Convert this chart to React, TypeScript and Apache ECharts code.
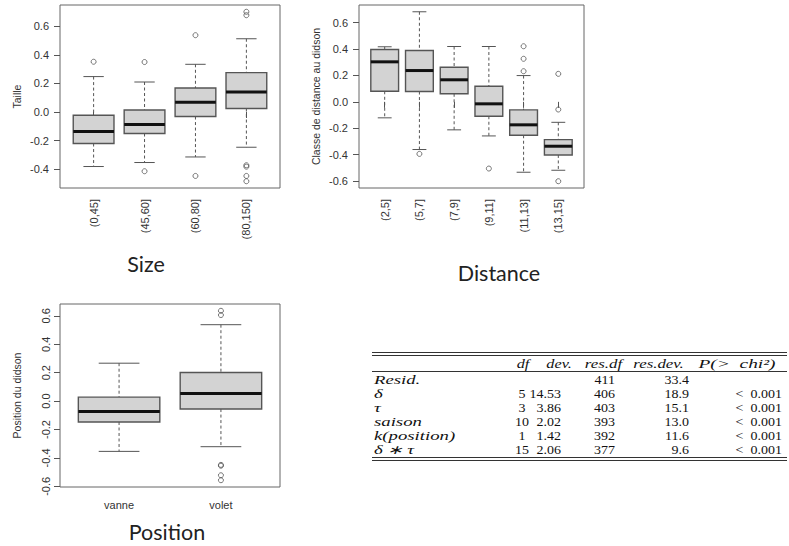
import React, { useEffect, useRef } from 'react';
import * as echarts from 'echarts';

// ---------- Size panel ----------
const sizeCategories = ['(0,45]', '(45,60]', '(60,80]', '(80,150]'];
// [lower whisker, Q1, median, Q3, upper whisker]
const sizeBoxes = [
  [-0.382, -0.221, -0.137, -0.023, 0.248],
  [-0.354, -0.151, -0.088, 0.014, 0.21],
  [-0.315, -0.032, 0.068, 0.168, 0.334],
  [-0.247, 0.024, 0.14, 0.276, 0.513],
];
const sizeOutliers = [[0.352], [0.35, -0.415], [0.538, -0.448], [0.702, 0.678, -0.373, -0.383, -0.448, -0.485]];
const sizeTicks = [-0.4, -0.2, 0.0, 0.2, 0.4, 0.6];

// ---------- Distance panel ----------
const distCategories = ['(2,5]', '(5,7]', '(7,9]', '(9,11]', '(11,13]', '(13,15]'];
const distBoxes = [
  [-0.121, 0.08, 0.303, 0.396, 0.417],
  [-0.361, 0.078, 0.237, 0.389, 0.682],
  [-0.212, 0.061, 0.167, 0.262, 0.419],
  [-0.258, -0.109, -0.015, 0.118, 0.419],
  [-0.533, -0.253, -0.174, -0.061, 0.199],
  [-0.518, -0.402, -0.336, -0.286, -0.155],
];
const distOutliers = [[], [-0.394], [], [-0.505], [0.421, 0.326, 0.232], [0.212, -0.058, -0.601]];
const distTicks = [-0.6, -0.4, -0.2, 0.0, 0.2, 0.4, 0.6];

// ---------- Position panel ----------
const posCategories = ['vanne', 'volet'];
const posBoxes = [
  [-0.354, -0.147, -0.073, 0.028, 0.267],
  [-0.321, -0.056, 0.053, 0.201, 0.538],
];
const posOutliers = [[], [0.636, 0.606, -0.449, -0.455, -0.522, -0.557]];
const posTicks = [-0.6, -0.4, -0.2, 0.0, 0.2, 0.4, 0.6];

// ---------- Deviance table ----------
const tableHeader = ['df', 'dev.', 'res.df', 'res.dev.', 'P(>\u2002chi²)'];
const tableRowLabels = ['Resid.', 'δ', 'τ', 'saison', 'k(position)', 'δ ∗ τ'];
const tableDf = ['', '5', '3', '10', '1', '15'];
const tableDev = ['', '14.53', '3.86', '2.02', '1.42', '2.06'];
const tableResDf = ['411', '406', '403', '393', '392', '377'];
const tableResDev = ['33.4', '18.9', '15.1', '13.0', '11.6', '9.6'];
const tableP = ['', '<\u20020.001', '<\u20020.001', '<\u20020.001', '<\u20020.001', '<\u20020.001'];

const panelTitles = ['Size', 'Distance', 'Position'];
const yNames = ['Taille', 'Classe de distance au didson', 'Position du didson'];

const SANS = 'Liberation Sans, Arial, sans-serif';
const SERIF = 'Liberation Serif, Times New Roman, serif';

function yRange(boxes: number[][], outliers: number[][]) {
  const vals: number[] = [];
  boxes.forEach((b) => vals.push(...b));
  outliers.forEach((o) => vals.push(...o));
  const lo = Math.min(...vals);
  const hi = Math.max(...vals);
  const r = hi - lo;
  return [lo - 0.04 * r, hi + 0.04 * r];
}

function renderBox(params: any, api: any) {
  const x = api.value(0);
  const lo = api.value(1);
  const q1 = api.value(2);
  const med = api.value(3);
  const q3 = api.value(4);
  const hi = api.value(5);
  const w = api.size([0.8, 0])[0];
  const cx = api.coord([x, med])[0];
  const yLo = api.coord([x, lo])[1];
  const yQ1 = api.coord([x, q1])[1];
  const yMed = api.coord([x, med])[1];
  const yQ3 = api.coord([x, q3])[1];
  const yHi = api.coord([x, hi])[1];
  const dash = { stroke: '#555', lineWidth: 1, lineDash: [3, 2.5] };
  const solid = { stroke: '#555', lineWidth: 1 };
  return {
    type: 'group',
    children: [
      { type: 'line', shape: { x1: cx, y1: yHi, x2: cx, y2: yQ3 }, style: dash },
      { type: 'line', shape: { x1: cx, y1: yQ1, x2: cx, y2: yLo }, style: dash },
      { type: 'line', shape: { x1: cx - w / 4, y1: yHi, x2: cx + w / 4, y2: yHi }, style: solid },
      { type: 'line', shape: { x1: cx - w / 4, y1: yLo, x2: cx + w / 4, y2: yLo }, style: solid },
      {
        type: 'rect',
        shape: { x: cx - w / 2, y: yQ3, width: w, height: yQ1 - yQ3 },
        style: { fill: '#d3d3d3', stroke: '#555', lineWidth: 1.4 },
      },
      { type: 'line', shape: { x1: cx - w / 2, y1: yMed, x2: cx + w / 2, y2: yMed }, style: { stroke: '#111', lineWidth: 3 } },
    ],
  };
}

export default function App() {
  const ref = useRef<HTMLDivElement>(null);
  useEffect(() => {
    if (!ref.current) return;
    const chart = echarts.init(ref.current, undefined, { renderer: 'svg' });

    const panels = [
      { cats: sizeCategories, boxes: sizeBoxes, outs: sizeOutliers, ticks: sizeTicks, grid: { left: 60, top: 5, width: 220, height: 183 }, xRot: 90, yRot: 0 },
      { cats: distCategories, boxes: distBoxes, outs: distOutliers, ticks: distTicks, grid: { left: 359, top: 5, width: 225, height: 183 }, xRot: 90, yRot: 0 },
      { cats: posCategories, boxes: posBoxes, outs: posOutliers, ticks: posTicks, grid: { left: 60, top: 304, width: 220, height: 183 }, xRot: 0, yRot: 90 },
    ];

    const grids: any[] = [];
    const xAxes: any[] = [];
    const yAxes: any[] = [];
    const series: any[] = [];

    panels.forEach((p, i) => {
      const n = p.cats.length;
      const [ymin, ymax] = yRange(p.boxes, p.outs);
      const xTicks = p.cats.map((_, k) => k + 1);
      grids.push({ ...p.grid, show: true, borderColor: '#666', borderWidth: 1, backgroundColor: 'transparent' });
      xAxes.push({
        gridIndex: i,
        type: 'value',
        min: 0.5 - 0.04 * n,
        max: n + 0.5 + 0.04 * n,
        axisLine: { show: false },
        splitLine: { show: false },
        axisTick: { show: true, customValues: xTicks, length: 6, lineStyle: { color: '#555' } },
        axisLabel: {
          customValues: xTicks,
          formatter: (v: number) => p.cats[Math.round(v) - 1] ?? '',
          rotate: p.xRot,
          margin: p.xRot ? 11 : 12,
          fontSize: 11,
          color: '#333',
          fontFamily: SANS,
        },
      });
      yAxes.push({
        gridIndex: i,
        type: 'value',
        min: ymin,
        max: ymax,
        axisLine: { show: false },
        splitLine: { show: false },
        axisTick: { show: true, customValues: p.ticks, length: 6, lineStyle: { color: '#555' } },
        axisLabel: {
          customValues: p.ticks,
          formatter: (v: number) => v.toFixed(1),
          rotate: p.yRot,
          margin: p.yRot ? 9 : 11,
          fontSize: 11,
          color: '#333',
          fontFamily: SANS,
        },
        name: yNames[i],
        nameLocation: 'middle',
        nameRotate: 90,
        nameGap: 38,
        nameTextStyle: { fontSize: 10.5, color: '#333', fontFamily: SANS },
      });
      series.push({
        type: 'custom',
        xAxisIndex: i,
        yAxisIndex: i,
        renderItem: renderBox,
        encode: { x: 0, y: [1, 2, 3, 4, 5] },
        data: p.boxes.map((b, k) => [k + 1, ...b]),
        silent: true,
        z: 2,
      });
      const outData: number[][] = [];
      p.outs.forEach((o, k) => o.forEach((v) => outData.push([k + 1, v])));
      series.push({
        type: 'scatter',
        xAxisIndex: i,
        yAxisIndex: i,
        symbol: 'circle',
        symbolSize: 5,
        itemStyle: { color: 'rgba(0,0,0,0)', borderColor: '#555', borderWidth: 1 },
        data: outData,
        silent: true,
        z: 3,
      });
    });

    // ---- table graphics ----
    const tbl: any[] = [];
    const L = 372;
    const R = 787;
    const hline = (y: number, lw = 1.2) => ({
      type: 'line',
      shape: { x1: L, y1: y, x2: R, y2: y },
      style: { stroke: '#333', lineWidth: lw },
    });
    tbl.push(hline(352.5), hline(355.5), hline(371.5, 1), hline(457.5), hline(460.5));
    const txt = (s: string, x: number, y: number, align: string, italic: boolean, sx: number) => ({
      type: 'text',
      x,
      y,
      scaleX: sx,
      style: {
        text: s,
        fontSize: 12.5,
        fontFamily: SERIF,
        fontStyle: italic ? 'italic' : 'normal',
        fill: '#111',
        align,
        verticalAlign: 'middle',
      },
    });
    const headerX = [523, 559, 603.5, 658.5, 737];
    const headerScale = [1.3, 1.3, 1.35, 1.35, 1.55];
    tableHeader.forEach((h, k) => tbl.push(txt(h, headerX[k], 363.5, 'center', true, headerScale[k])));
    const rowY0 = 380;
    const rowH = 13.9;
    const numScale = 1.12;
    tableRowLabels.forEach((lab, r) => {
      const y = rowY0 + r * rowH;
      tbl.push(txt(lab, 374, y, 'left', true, 1.5));
      tbl.push(txt(tableDf[r], 522, y, 'center', false, numScale));
      tbl.push(txt(tableDev[r], 561, y, 'right', false, numScale));
      tbl.push(txt(tableResDf[r], 615, y, 'right', false, numScale));
      tbl.push(txt(tableResDev[r], 689, y, 'right', false, numScale));
      tbl.push(txt(tableP[r], 782, y, 'right', false, numScale));
    });

    const titleStyle = (s: string) => ({ text: s, fontSize: 21.5, fontFamily: 'Lato, Open Sans, sans-serif', fill: '#222', align: 'center', verticalAlign: 'middle' });
    const titles = [
      { type: 'text', x: 146, y: 264, style: titleStyle(panelTitles[0]) },
      { type: 'text', x: 499, y: 273, style: titleStyle(panelTitles[1]) },
      { type: 'text', x: 167, y: 532, style: titleStyle(panelTitles[2]) },
    ];

    chart.setOption({
      animation: false,
      backgroundColor: '#fff',
      grid: grids,
      xAxis: xAxes,
      yAxis: yAxes,
      series,
      graphic: [...titles, ...tbl],
    });
    return () => chart.dispose();
  }, []);
  return <div ref={ref} style={{ position: 'absolute', left: 0, top: 0, width: 789, height: 546 }} />;
}
